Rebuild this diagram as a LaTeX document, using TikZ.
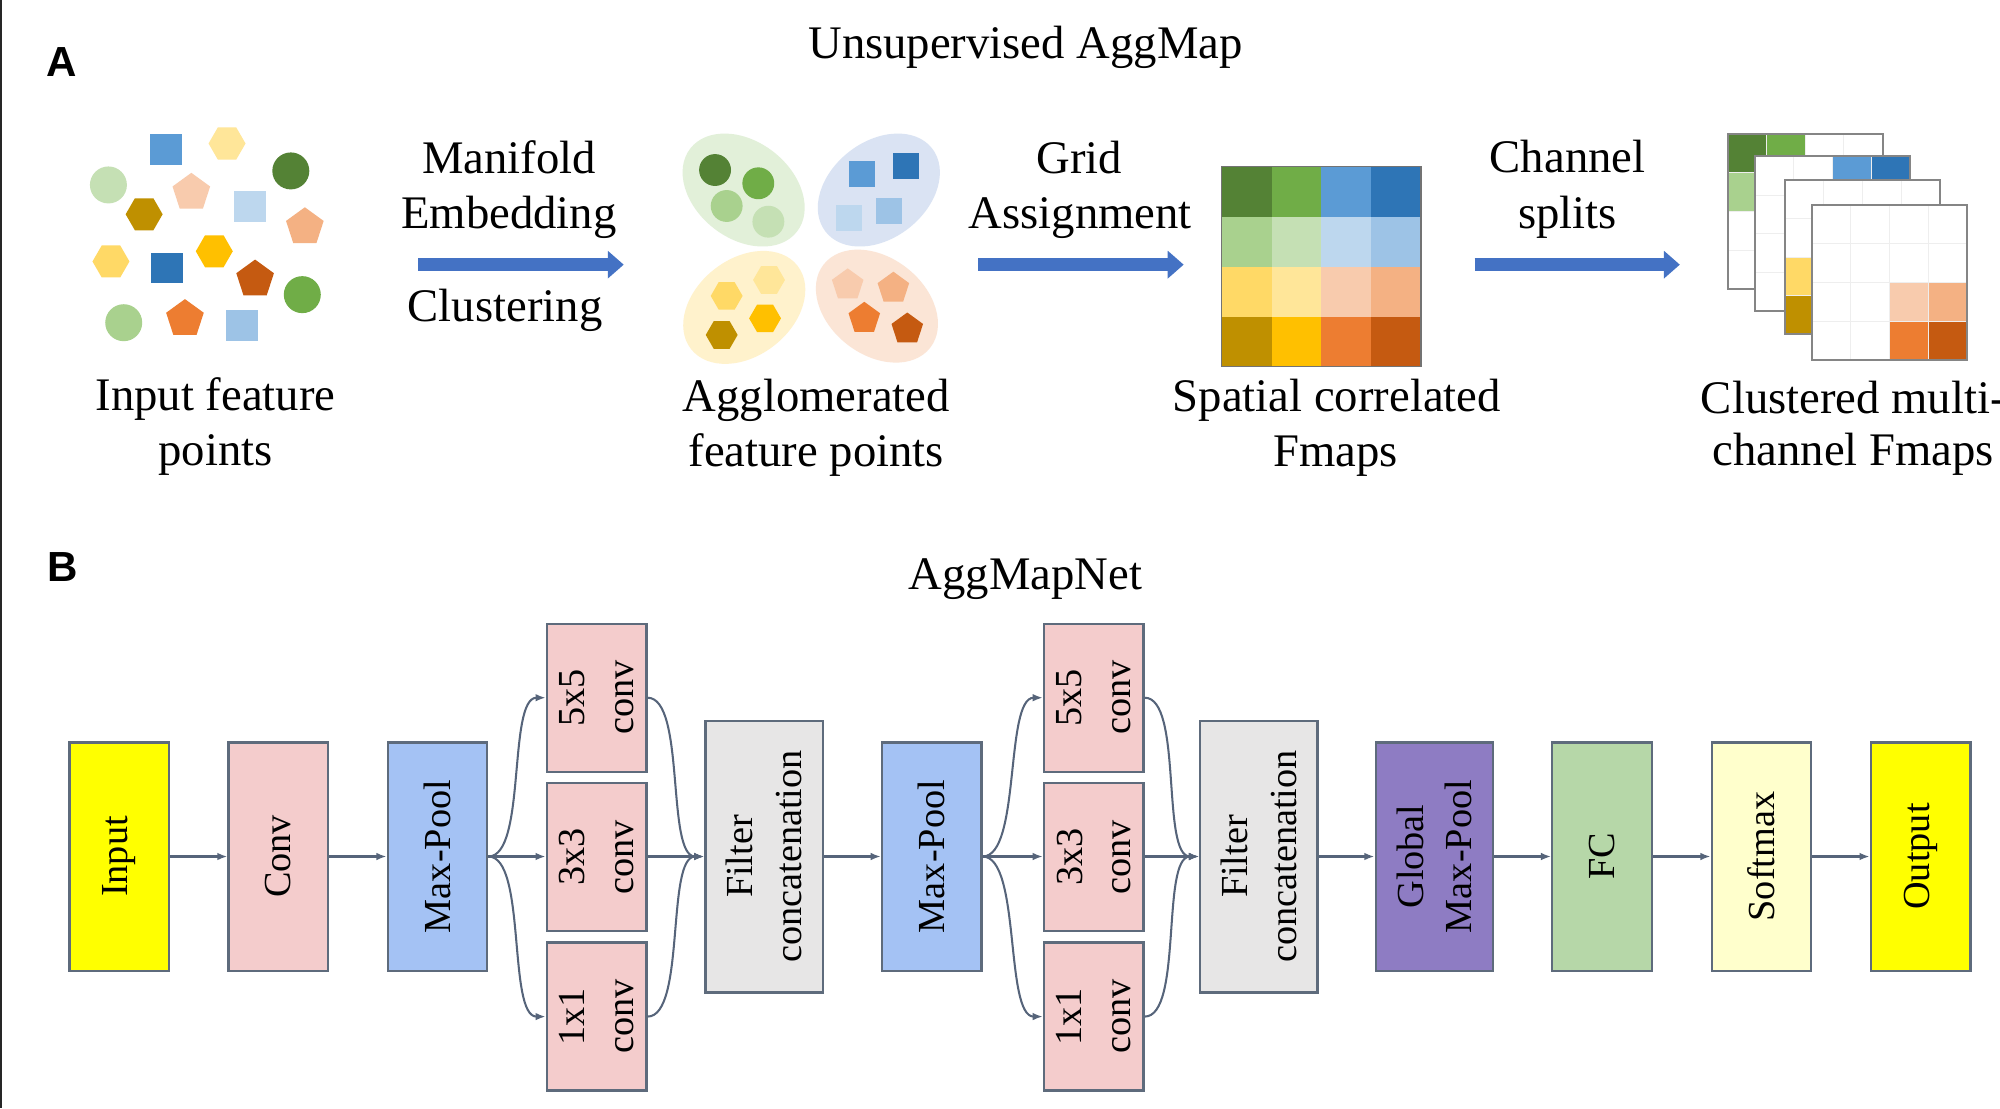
\documentclass[tikz,border=0pt]{standalone}
\usepackage{fontspec}
\setmainfont{Liberation Serif}
\newfontfamily\lsans{Liberation Sans}
\usetikzlibrary{shapes.geometric,arrows.meta}
\definecolor{gA}{HTML}{548235}
\definecolor{gB}{HTML}{70AD47}
\definecolor{gC}{HTML}{A9D18E}
\definecolor{gD}{HTML}{C5E0B4}
\definecolor{bA}{HTML}{2E75B6}
\definecolor{bB}{HTML}{5B9BD5}
\definecolor{bC}{HTML}{9DC3E6}
\definecolor{bD}{HTML}{BDD7EE}
\definecolor{yA}{HTML}{BF9000}
\definecolor{yB}{HTML}{FFC000}
\definecolor{yC}{HTML}{FFD966}
\definecolor{yD}{HTML}{FFE699}
\definecolor{oA}{HTML}{C55A11}
\definecolor{oB}{HTML}{ED7D31}
\definecolor{oC}{HTML}{F4B183}
\definecolor{oD}{HTML}{F8CBAD}
\definecolor{eG}{HTML}{E2F0D9}
\definecolor{eB}{HTML}{DAE3F3}
\definecolor{eY}{HTML}{FFF2CC}
\definecolor{eO}{HTML}{FBE5D6}
\definecolor{arrb}{HTML}{4472C4}
\definecolor{bordc}{HTML}{5E6B7C}
\definecolor{linec}{HTML}{56647A}
\definecolor{pinkc}{HTML}{F4CCCC}
\definecolor{poolc}{HTML}{A4C2F4}
\definecolor{filtc}{HTML}{E7E6E6}
\definecolor{globc}{HTML}{8E7CC3}
\definecolor{fcc}{HTML}{B6D7A8}
\definecolor{softc}{HTML}{FFFFCC}
\definecolor{yelc}{HTML}{FFFF00}
\definecolor{sheetc}{HTML}{858585}
\definecolor{faintc}{HTML}{EEEEEE}
\tikzset{
  lbl/.style={font=\fontsize{36.6}{43.5}\selectfont, inner sep=0pt, anchor=base},
  panel/.style={font=\lsans\bfseries\fontsize{33}{36}\selectfont, inner sep=0pt},
  sqr/.style={rectangle, minimum width=25pt, minimum height=24pt, inner sep=0pt, outer sep=0pt},
  hexa/.style={regular polygon, regular polygon sides=6, minimum size=29pt, inner sep=0pt, outer sep=0pt},
  penta/.style={regular polygon, regular polygon sides=5, minimum size=31pt, inner sep=0pt, outer sep=0pt},
  circ/.style={circle, minimum size=29pt, inner sep=0pt, outer sep=0pt},
  ssqr/.style={rectangle, minimum size=20.5pt, inner sep=0pt, outer sep=0pt},
  shexa/.style={regular polygon, regular polygon sides=6, minimum size=25pt, inner sep=0pt, outer sep=0pt},
  spenta/.style={regular polygon, regular polygon sides=5, minimum size=26pt, inner sep=0pt, outer sep=0pt},
  scirc/.style={circle, minimum size=25pt, inner sep=0pt, outer sep=0pt},
  blob/.style={ellipse, minimum width=106pt, minimum height=76pt, inner sep=0pt},
  bigarrow/.style={draw=arrb, line width=10pt, -{Triangle[length=12.5pt,width=21pt]}},
  box/.style={draw=bordc, line width=1.8pt, minimum width=78pt, minimum height=179pt, inner sep=0pt},
  wbox/.style={box, minimum width=92pt},
  cbox/.style={box, fill=pinkc, minimum height=116pt},
  boxtxt/.style={rotate=90, align=center, inner sep=0pt, font=\fontsize{30}{38}\selectfont},
  conn/.style={draw=linec, line width=1.6pt, -{Latex[length=8pt,width=6pt]}},
}
\begin{document}
\begin{tikzpicture}[x=1pt,y=-1pt]
\useasboundingbox (0,0) rectangle (1568,869);
\fill[white] (0,0) rectangle (1568,869);
\draw[black!85, line width=1.6pt] (0.8,0) -- (0.8,869);

% ---------- Panel A ----------
\node[panel] (pa) at (48.4,48.5) {A};
\node[lbl] (title1) at (804,46) {Unsupervised AggMap};

% input feature points
\node[sqr, fill=bB] (s1) at (130,117) {};
\node[hexa, fill=yD] (s2) at (178,112.5) {};
\node[circ, fill=gA] (s3) at (228,134) {};
\node[circ, fill=gD] (s4) at (85,145) {};
\node[penta, fill=oD] (s5) at (150,151) {};
\node[sqr, fill=bD] (s6) at (196,162) {};
\node[hexa, fill=yA] (s7) at (113,168) {};
\node[penta, fill=oC] (s8) at (239,178) {};
\node[hexa, fill=yC] (s9) at (87,205) {};
\node[sqr, fill=bA] (s10) at (131,210) {};
\node[hexa, fill=yB] (s11) at (168,197) {};
\node[penta, fill=oA] (s12) at (200,219) {};
\node[circ, fill=gB] (s13) at (237,231) {};
\node[circ, fill=gC] (s14) at (97,253) {};
\node[penta, fill=oB] (s15) at (145,250) {};
\node[sqr, fill=bC] (s16) at (190,255) {};
\node[lbl] (t-in1) at (169,322) {Input feature};
\node[lbl] (t-in2) at (169,365) {points};

% arrow 1
\coordinate (a1s) at (328,207.5);
\coordinate (a1e) at (489,207.5);
\draw[bigarrow] (a1s) -- (a1e);
\node[lbl] (t-m1) at (399,136) {Manifold};
\node[lbl] (t-m2) at (399,179) {Embedding};
\node[lbl] (t-m3) at (396,252) {Clustering};

% agglomerated clusters
\node[blob, fill=eG, rotate=-38] (eg) at (583,149) {};
\node[blob, fill=eB, rotate=38] (eb) at (689,149) {};
\node[blob, fill=eY, rotate=38] (ey) at (583.5,241) {};
\node[blob, fill=eO, rotate=-38] (eo) at (687.5,240) {};
\node[scirc, fill=gA] (c1) at (560.6,133.3) {};
\node[scirc, fill=gB] (c2) at (594.5,143.7) {};
\node[scirc, fill=gC] (c3) at (569.7,161.5) {};
\node[scirc, fill=gD] (c4) at (602.4,173.8) {};
\node[ssqr, fill=bB] (q1) at (675.8,136.5) {};
\node[ssqr, fill=bA] (q2) at (710,130.4) {};
\node[ssqr, fill=bC] (q3) at (697,165.6) {};
\node[ssqr, fill=bD] (q4) at (665.6,170.9) {};
\node[shexa, fill=yD] (h1) at (602.9,219.5) {};
\node[shexa, fill=yC] (h2) at (569.7,232) {};
\node[shexa, fill=yB] (h3) at (599.8,249.6) {};
\node[shexa, fill=yA] (h4) at (565.8,262.6) {};
\node[spenta, fill=oD] (p1) at (664.6,223.4) {};
\node[spenta, fill=oC] (p2) at (700.4,226) {};
\node[spenta, fill=oB] (p3) at (677.6,249.6) {};
\node[spenta, fill=oA] (p4) at (711.3,258) {};
\node[lbl] (t-ag1) at (640,323) {Agglomerated};
\node[lbl] (t-ag2) at (640,366) {feature points};

% arrow 2
\coordinate (a2s) at (767,207.5);
\coordinate (a2e) at (928,207.5);
\draw[bigarrow] (a2s) -- (a2e);
\node[lbl] (t-g1) at (846,136) {Grid};
\node[lbl] (t-g2) at (847,179) {Assignment};

% spatial correlated fmaps
\foreach \rowi/\clist in {0/{gA,gB,bB,bA},1/{gC,gD,bD,bC},2/{yC,yD,oD,oC},3/{yA,yB,oB,oA}}{
  \foreach \clr [count=\coli from 0] in \clist {
    \fill[\clr] (957.8+39.05*\coli,130.7+39.2*\rowi) rectangle +(39.05,39.2);
  }
}
\draw[black!55, line width=0.9pt] (957.8,130.7) rectangle (1114,287.5);
\node[lbl] (t-sp1) at (1048,323) {Spatial correlated};
\node[lbl] (t-sp2) at (1047,366) {Fmaps};

% arrow 3
\coordinate (a3s) at (1156,207.5);
\coordinate (a3e) at (1317,207.5);
\draw[bigarrow] (a3s) -- (a3e);
\node[lbl] (t-c1) at (1229,135) {Channel};
\node[lbl] (t-c2) at (1229,179) {splits};

% clustered multi-channel fmaps
\foreach \sx/\sy/\cells in {
   1354.5/105/{0/0/gA,1/0/gB,0/1/gC,1/1/gD},
   1376/122.5/{2/0/bB,3/0/bA,2/1/bD,3/1/bC},
   1399.5/140.8/{0/2/yC,1/2/yD,0/3/yA,1/3/yB},
   1420.5/160.7/{2/2/oD,3/2/oC,2/3/oB,3/3/oA}}{
  \fill[white] (\sx,\sy) rectangle +(121.4,121.4);
  \foreach \cx/\cy/\clr in \cells {
    \fill[\clr] (\sx+30.35*\cx,\sy+30.35*\cy) rectangle +(30.35,30.35);
  }
  \foreach \k in {1,2,3}{
    \draw[faintc, line width=0.7pt] (\sx+30.35*\k,\sy) -- +(0,121.4);
    \draw[faintc, line width=0.7pt] (\sx,\sy+30.35*\k) -- +(121.4,0);
  }
  \draw[sheetc, line width=1.5pt] (\sx,\sy) rectangle +(121.4,121.4);
}
\node[lbl] (t-cl1) at (1453,324) {Clustered multi-};
\node[lbl] (t-cl2) at (1453,365) {channel Fmaps};

% ---------- Panel B ----------
\node[panel] (pb) at (49,444.5) {B};
\node[lbl] (title2) at (804,462) {AggMapNet};

\node[box, fill=yelc] (in) at (93.5,671.5) {};
\node[box, fill=pinkc] (conv) at (218.25,671.5) {};
\node[box, fill=poolc] (mp1) at (343,671.5) {};
\node[cbox] (c5a) at (467.75,547) {};
\node[cbox] (c3a) at (467.75,672) {};
\node[cbox] (c1a) at (467.75,797) {};
\node[wbox, fill=filtc, minimum height=213pt] (fa) at (599,671.5) {};
\node[box, fill=poolc] (mp2) at (730.5,671.5) {};
\node[cbox] (c5b) at (857.5,547) {};
\node[cbox] (c3b) at (857.5,672) {};
\node[cbox] (c1b) at (857.5,797) {};
\node[wbox, fill=filtc, minimum height=213pt] (fb) at (987,671.5) {};
\node[wbox, fill=globc] (gmp) at (1124.5,671.5) {};
\node[box, fill=fcc] (fc) at (1256,671.5) {};
\node[box, fill=softc] (sm) at (1381,671.5) {};
\node[box, fill=yelc] (out) at (1505.75,671.5) {};

\node[boxtxt] (in-t) at (in) {Input};
\node[boxtxt] (conv-t) at (conv) {Conv};
\node[boxtxt] (mp1-t) at (mp1) {Max-Pool};
\node[boxtxt] (c5a-t) at (c5a) {5x5\\conv};
\node[boxtxt] (c3a-t) at (c3a) {3x3\\conv};
\node[boxtxt] (c1a-t) at (c1a) {1x1\\conv};
\node[boxtxt] (fa-t) at (fa) {Filter\\concatenation};
\node[boxtxt] (mp2-t) at (mp2) {Max-Pool};
\node[boxtxt] (c5b-t) at (c5b) {5x5\\conv};
\node[boxtxt] (c3b-t) at (c3b) {3x3\\conv};
\node[boxtxt] (c1b-t) at (c1b) {1x1\\conv};
\node[boxtxt] (fb-t) at (fb) {Filter\\concatenation};
\node[boxtxt] (gmp-t) at (gmp) {Global\\Max-Pool};
\node[boxtxt] (fc-t) at (fc) {FC};
\node[boxtxt] (sm-t) at (sm) {Softmax};
\node[boxtxt] (out-t) at (out) {Output};

\draw[conn] (in) -- (conv);
\draw[conn] (conv) -- (mp1);
\draw[conn] (mp1.east) .. controls +(30,0) and +(-30,0) .. (c5a.west);
\draw[conn] (mp1.east) -- (c3a.west |- mp1.east);
\draw[conn] (mp1.east) .. controls +(30,0) and +(-30,0) .. (c1a.west);
\draw[conn] (c5a.east) .. controls +(30,0) and +(-30,0) .. (fa.west);
\draw[conn] (c3a.east |- fa.west) -- (fa.west);
\draw[conn] (c1a.east) .. controls +(30,0) and +(-30,0) .. (fa.west);
\draw[conn] (fa) -- (mp2);
\draw[conn] (mp2.east) .. controls +(30,0) and +(-30,0) .. (c5b.west);
\draw[conn] (mp2.east) -- (c3b.west |- mp2.east);
\draw[conn] (mp2.east) .. controls +(30,0) and +(-30,0) .. (c1b.west);
\draw[conn] (c5b.east) .. controls +(30,0) and +(-30,0) .. (fb.west);
\draw[conn] (c3b.east |- fb.west) -- (fb.west);
\draw[conn] (c1b.east) .. controls +(30,0) and +(-30,0) .. (fb.west);
\draw[conn] (fb) -- (gmp);
\draw[conn] (gmp) -- (fc);
\draw[conn] (fc) -- (sm);
\draw[conn] (sm) -- (out);
\end{tikzpicture}
\end{document}
